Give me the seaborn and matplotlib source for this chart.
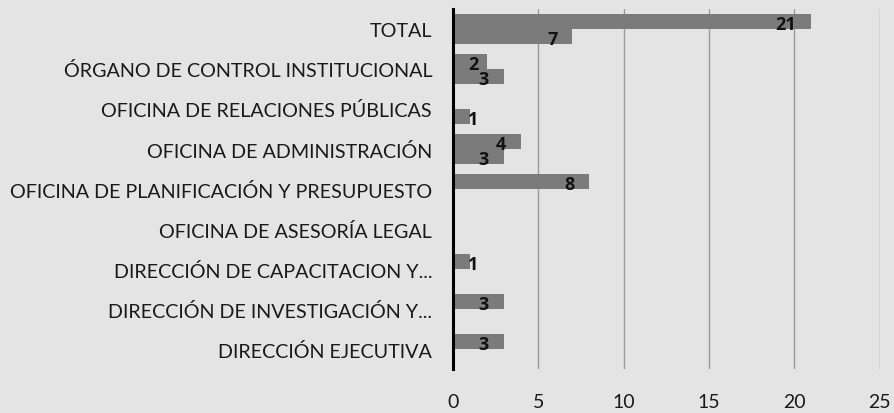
import matplotlib
matplotlib.use("Agg")
import matplotlib.pyplot as plt
import seaborn as sns
import pandas as pd

categories = [
    "TOTAL",
    "ÓRGANO DE CONTROL INSTITUCIONAL",
    "OFICINA DE RELACIONES PÚBLICAS",
    "OFICINA DE ADMINISTRACIÓN",
    "OFICINA DE PLANIFICACIÓN Y PRESUPUESTO",
    "OFICINA DE ASESORÍA LEGAL",
    "DIRECCIÓN DE CAPACITACION Y...",
    "DIRECCIÓN DE INVESTIGACIÓN Y...",
    "DIRECCIÓN EJECUTIVA",
]
series_a = [21, 2, 0, 4, 8, 0, 1, 3, 3]
series_b = [7, 3, 1, 3, 0, 0, 0, 0, 0]
series_names = ["Serie 1", "Serie 2"]
x_ticks = [0, 5, 10, 15, 20, 25]

rows = []
for c, a, b in zip(categories, series_a, series_b):
    rows.append({"cat": c, "serie": series_names[0], "val": a})
    rows.append({"cat": c, "serie": series_names[1], "val": b})
df = pd.DataFrame(rows)

sns.set_theme(style="white")
plt.rcParams["font.family"] = ["Lato", "DejaVu Sans"]

bg = "#e4e4e4"
fig = plt.figure(figsize=(8.95, 4.14), dpi=100, facecolor=bg)
ax = fig.add_axes([0.506, 0.106, 0.477, 0.870])
ax.set_facecolor(bg)

sns.barplot(data=df, x="val", y="cat", hue="serie", order=categories,
            hue_order=series_names, palette=["#7b7b7b", "#7b7b7b"],
            orient="h", width=0.76, saturation=1, ax=ax, legend=False,
            edgecolor="none")

ax.set_xlim(0, 25)
ax.set_xticks(x_ticks)
ax.set_xticklabels([str(t) for t in x_ticks])
ax.grid(axis="x", color="#9a9a9a", linewidth=1)
ax.set_axisbelow(True)
for s in ["top", "right", "bottom"]:
    ax.spines[s].set_visible(False)
ax.spines["left"].set_color("black")
ax.spines["left"].set_linewidth(2.2)
ax.set_xlabel("")
ax.set_ylabel("")
ax.tick_params(axis="y", length=0, pad=15, labelsize=14.2, labelcolor="#1a1a1a")
ax.tick_params(axis="x", length=0, pad=17, labelsize=14, labelcolor="#1a1a1a")

for cont in ax.containers:
    for bar in cont:
        v = bar.get_width()
        if v <= 0:
            continue
        yc = bar.get_y() + bar.get_height() / 2
        xpos = max(v - 0.88, 1.5)
        ax.text(xpos, yc + 0.06, f"{int(v)}", ha="right", va="center",
                fontsize=13, fontweight="bold", color="#111111",
                family=["Open Sans", "DejaVu Sans"])

fig.savefig("out.png", dpi=100, facecolor=bg)
